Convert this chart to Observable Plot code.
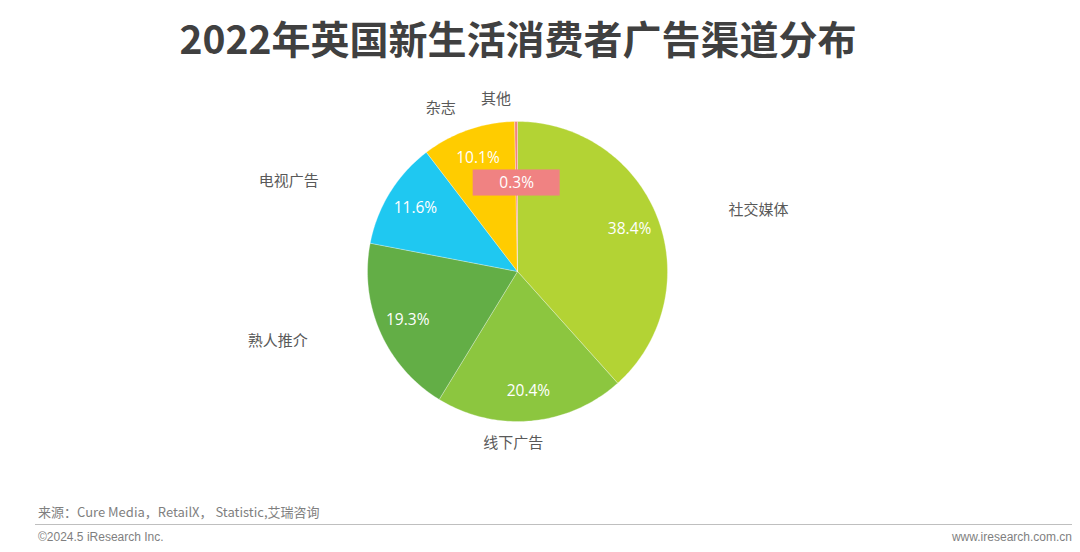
<!DOCTYPE html>
<html><head><meta charset="utf-8">
<script src="https://cdn.jsdelivr.net/npm/d3@7"></script>
<script src="https://cdn.jsdelivr.net/npm/@observablehq/plot@0.6"></script>
<style>
html,body{margin:0;padding:0;background:#fff;width:1080px;height:552px;overflow:hidden;position:relative;font-family:"Noto Sans CJK SC","Noto Sans",sans-serif;}
#title{position:absolute;left:0;top:9px;width:1036px;text-align:center;font-size:39px;font-weight:700;color:#404040;}
#chart{position:absolute;left:0;top:80px;}
#source{position:absolute;left:38px;top:502px;font-size:13px;color:#7f7f7f;font-family:"Liberation Sans Narrow","Noto Sans CJK SC",sans-serif;}
#rule{position:absolute;left:35px;top:524px;width:1037px;height:1px;background:#bfbfbf;}
#copy{position:absolute;left:38px;top:530px;font-size:12px;color:#7f7f7f;font-family:"Liberation Sans Narrow","Liberation Sans",sans-serif;}
#site{position:absolute;right:8px;top:530px;font-size:12px;color:#7f7f7f;font-family:"Liberation Sans Narrow","Liberation Sans",sans-serif;}
</style></head>
<body>
<div id="title">2022年英国新生活消费者广告渠道分布</div>
<div id="chart"></div>
<div id="source">来源：Cure Media，RetailX， Statistic,艾瑞咨询</div>
<div id="rule"></div>
<div id="copy">©2024.5 iResearch Inc.</div>
<div id="site">www.iresearch.com.cn</div>
<script>
const categories = ["社交媒体", "线下广告", "熟人推介", "电视广告", "杂志", "其他"];
const values = [38.4, 20.4, 19.3, 11.6, 10.1, 0.3];
const colors = ["#B3D334", "#8CC63F", "#63AE46", "#1FC8F1", "#FFCC00", "#F08282"];

// layout (pixels)
const W = 1080, H = 420, CX = 517, CY = 191, R = 150;

const total = d3.sum(values);
let acc = 0;
const slices = categories.map((c, i) => {
  const a0 = acc / total * 2 * Math.PI;
  acc += values[i];
  const a1 = acc / total * 2 * Math.PI;
  return {cat: c, value: values[i], a0, a1, mid: (a0 + a1) / 2};
});

const pts = [];
for (const s of slices) {
  pts.push({cat: s.cat, x: 0, y: 0});
  const n = Math.max(2, Math.ceil((s.a1 - s.a0) / (Math.PI / 180)));
  for (let k = 0; k <= n; k++) {
    const a = s.a0 + (s.a1 - s.a0) * k / n;
    pts.push({cat: s.cat, x: Math.sin(a), y: Math.cos(a)});
  }
  pts.push({cat: s.cat, x: 0, y: 0});
}

const inner = slices.map(s => {
  const r = s.value < 2 ? 0.59 : 0.8;
  return {...s, x: r * Math.sin(s.mid), y: r * Math.cos(s.mid), text: s.value.toFixed(1) + "%"};
});
const small = inner.filter(d => d.value < 2);

const outer = slices.map(s => {
  const sx = Math.sin(s.mid), cy = Math.cos(s.mid);
  const side = sx > 0.5 ? "start" : sx < -0.5 ? "end" : "middle";
  return {...s, x: 1.15 * sx, y: 1.15 * cy, side};
});

const txtFont = "'Noto Sans CJK SC', sans-serif";
const plot = Plot.plot({
  width: W, height: H, margin: 0,
  x: {domain: [-CX / R, (W - CX) / R], axis: null},
  y: {domain: [-(H - CY) / R, CY / R], axis: null},
  color: {domain: categories, range: colors},
  style: {fontFamily: "'Open Sans','Noto Sans',sans-serif", background: "transparent"},
  marks: [
    Plot.line(pts, {x: "x", y: "y", z: "cat", fill: "cat", stroke: "white", strokeWidth: 0.3, curve: "linear"}),
    Plot.rect(small, {x1: d => d.x - 0.29, x2: d => d.x + 0.29, y1: d => d.y - 0.087, y2: d => d.y + 0.087, fill: "cat"}),
    Plot.text(inner, {x: "x", y: "y", text: "text", fill: "white", fontSize: 15.5}),
    Plot.text(outer.filter(d => d.side === "start"), {x: "x", y: "y", text: "cat", textAnchor: "start", dx: 50, fill: "#595959", fontSize: 15, fontFamily: txtFont}),
    Plot.text(outer.filter(d => d.side === "end"), {x: "x", y: "y", text: "cat", textAnchor: "end", dx: -52, fill: "#595959", fontSize: 15, fontFamily: txtFont}),
    Plot.text(outer.filter(d => d.side === "middle"), {x: "x", y: "y", text: "cat", textAnchor: "middle", dx: -20, fill: "#595959", fontSize: 15, fontFamily: txtFont})
  ]
});
document.getElementById("chart").appendChild(plot);
</script>
</body></html>
